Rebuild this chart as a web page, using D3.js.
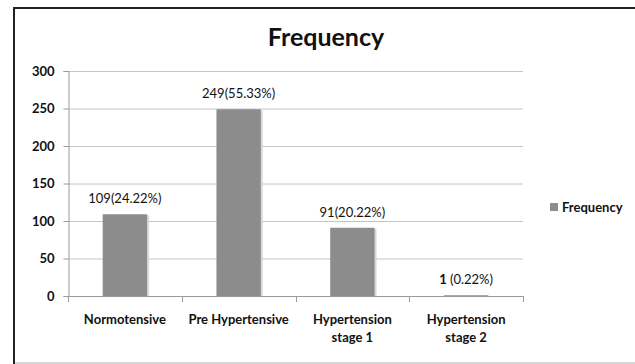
<!DOCTYPE html>
<html><head><meta charset="utf-8">
<script src="https://cdn.jsdelivr.net/npm/d3@7"></script>
<style>body{margin:0;background:#fff}svg{display:block}text{font-family:Lato,"Open Sans",sans-serif;fill:#111}</style>
</head><body>
<script>
const categories = [["Normotensive"],["Pre Hypertensive"],["Hypertension","stage 1"],["Hypertension","stage 2"]];
const values = [109, 249, 91, 1];
const valueLabels = [["109", "(24.22%)"], ["249", "(55.33%)"], ["91", "(20.22%)"], ["1 ", "(0.22%)"]];
const yTicks = [0, 50, 100, 150, 200, 250, 300];
const seriesName = "Frequency";
const titleText = "Frequency";

(function(){
const W = 635, H = 364;
const svg = d3.select("body").append("svg").attr("width", W).attr("height", H);

// outer frame
svg.append("rect").attr("x", 14).attr("y", 8).attr("width", 640).attr("height", 355)
  .attr("fill", "#fff").attr("stroke", "#c8c8c8").attr("stroke-width", 1.5);
svg.append("line").attr("x1", 14).attr("x2", 640).attr("y1", 8).attr("y2", 8).attr("stroke", "#222").attr("stroke-width", 2);
svg.append("line").attr("x1", 14).attr("x2", 14).attr("y1", 7).attr("y2", 364).attr("stroke", "#222").attr("stroke-width", 2);

const pLeft = 68, pRight = 523, pTop = 71, pBottom = 296;
const x = d3.scaleBand().domain(d3.range(categories.length)).range([pLeft, pRight]).paddingInner(0.61).paddingOuter(0.305);
const xs = d3.scaleBand().domain(d3.range(categories.length)).range([pLeft, pRight]);
const y = d3.scaleLinear().domain([0, 300]).range([pBottom, pTop]);

// gridlines
svg.append("g").selectAll("line").data(yTicks.filter(d => d > 0)).join("line")
  .attr("x1", pLeft).attr("x2", pRight).attr("y1", d => y(d) + 0.5).attr("y2", d => y(d) + 0.5)
  .attr("stroke", "#c4c4c4");

// y axis
const yAxis = svg.append("g").attr("transform", `translate(${pLeft + 0.5},0)`)
  .call(d3.axisLeft(y).tickValues(yTicks).tickSize(5).tickPadding(9));
yAxis.select(".domain").attr("stroke", "#9a9a9a");
yAxis.selectAll(".tick line").attr("stroke", "#9a9a9a");
yAxis.selectAll(".tick text").attr("font-size", 13).attr("font-weight", 700).attr("fill", "#222")
  .style("font-family", "Lato, sans-serif");

// bars with shadow
const bars = svg.append("g");
bars.selectAll("rect.sh").data(values).join("rect").attr("class", "sh")
  .attr("x", (d, i) => x(i) + 2).attr("y", d => y(d) + 1)
  .attr("width", x.bandwidth()).attr("height", d => Math.max(0, pBottom - y(d) - 1))
  .attr("fill", "#d8d8d8");
bars.selectAll("rect.b").data(values).join("rect").attr("class", "b")
  .attr("x", (d, i) => x(i)).attr("y", d => y(d))
  .attr("width", x.bandwidth()).attr("height", d => pBottom - y(d))
  .attr("fill", "#8c8c8c");

// x axis
svg.append("line").attr("x1", pLeft).attr("x2", pRight).attr("y1", pBottom + 0.5).attr("y2", pBottom + 0.5).attr("stroke", "#9a9a9a");
const bounds = d3.range(categories.length + 1).map(i => pLeft + i * xs.step());
svg.append("g").selectAll("line").data(bounds).join("line")
  .attr("x1", d => Math.round(d) + 0.5).attr("x2", d => Math.round(d) + 0.5)
  .attr("y1", pBottom).attr("y2", pBottom + 6).attr("stroke", "#9a9a9a");

// category labels
svg.append("g").selectAll("text").data(categories).join("text")
  .attr("x", (d, i) => xs(i) + xs.bandwidth() / 2).attr("y", 324)
  .attr("text-anchor", "middle").attr("font-size", 13).attr("font-weight", 700).attr("fill", "#222")
  .each(function(d) {
    const cx = d3.select(this).attr("x");
    d3.select(this).selectAll("tspan").data(d).join("tspan")
      .attr("x", cx).attr("dy", (t, j) => j === 0 ? 0 : 18).text(t => t);
  });

// value labels
svg.append("g").selectAll("text").data(values).join("text")
  .attr("x", (d, i) => xs(i) + xs.bandwidth() / 2).attr("y", d => y(d) - 11)
  .attr("text-anchor", "middle").attr("font-size", 13).attr("fill", "#222")
  .each(function(d, i) {
    const t = d3.select(this);
    t.append("tspan").attr("font-weight", i === 3 ? 700 : 400).text(valueLabels[i][0]);
    t.append("tspan").text(valueLabels[i][1]);
  });

// title
svg.append("text").attr("x", 326).attr("y", 46).attr("text-anchor", "middle")
  .attr("font-size", 25).attr("font-weight", 700).attr("fill", "#111").text(titleText);

// legend
svg.append("rect").attr("x", 550).attr("y", 203).attr("width", 8).attr("height", 8).attr("fill", "#8c8c8c");
svg.append("text").attr("x", 562).attr("y", 212).attr("font-size", 13).attr("font-weight", 700).attr("fill", "#222").text(seriesName);
})();
</script>
</body></html>
